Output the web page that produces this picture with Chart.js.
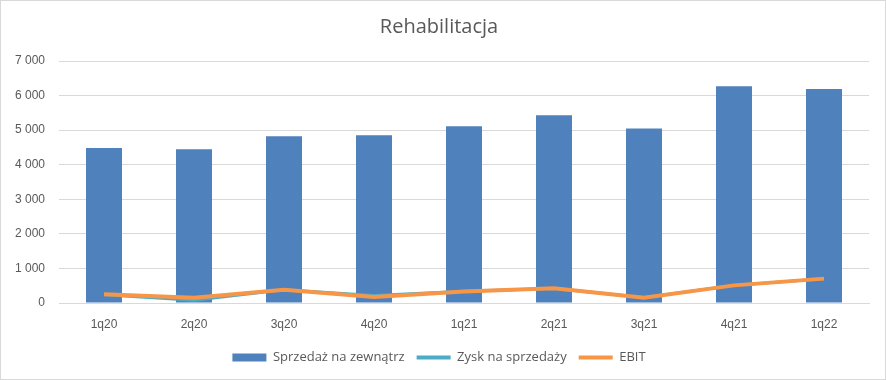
<!DOCTYPE html>
<html><head><meta charset="utf-8">
<script src="https://cdn.jsdelivr.net/npm/chart.js@4"></script>
<style>
html,body{margin:0;padding:0;background:#fff;}
#wrap{position:relative;width:884px;height:378px;border:1px solid #d9d9d9;}
</style></head>
<body><div id="wrap"><canvas id="c" width="884" height="378"></canvas></div>
<script>
const categories = ['1q20','2q20','3q20','4q20','1q21','2q21','3q21','4q21','1q22'];
const sprzedaz = [4480, 4450, 4820, 4850, 5110, 5430, 5050, 6270, 6190];
const zysk = [240, 80, 380, 220, 340, 420, 160, 510, 700];
const ebit = [250, 155, 380, 175, 330, 425, 155, 510, 705];
const yTicks = [0,1000,2000,3000,4000,5000,6000,7000];

const fmt = v => v === 0 ? '0' : String(v).replace(/\B(?=(\d{3})+(?!\d))/g, ' ');

new Chart(document.getElementById('c'), {
  data: {
    labels: categories,
    datasets: [
      {type:'line', label:'EBIT', data: ebit, borderColor:'#f79646', backgroundColor:'#f79646', borderWidth:4, pointRadius:0, tension:0, order:1},
      {type:'line', label:'Zysk na sprzedaży', data: zysk, borderColor:'#4bacc6', backgroundColor:'#4bacc6', borderWidth:3, pointRadius:0, tension:0, order:2},
      {type:'bar', label:'Sprzedaż na zewnątrz', data: sprzedaz, backgroundColor:'#4f81bd', categoryPercentage:1, barPercentage:0.4, order:3}
    ]
  },
  options: {
    responsive:false, animation:false,
    layout:{padding:{left:8, right:16, top:0, bottom:5}},
    plugins:{
      title:{display:true, text:'Rehabilitacja', color:'#595959', font:{family:'Open Sans', size:20, weight:'normal'}, padding:{top:14, bottom:22}},
      legend:{position:'bottom', reverse:true,
        labels:{color:'#595959', font:{family:'Open Sans', size:13}, usePointStyle:true, pointStyleWidth:34, boxHeight:8, padding:12,
          generateLabels(chart){
            const items = Chart.defaults.plugins.legend.labels.generateLabels(chart);
            items.forEach(it=>{
              const ds = chart.data.datasets[it.datasetIndex];
              if(ds.type==='bar'){ it.pointStyle='rect'; it.lineWidth=0; it.strokeStyle=ds.backgroundColor; }
              else { it.pointStyle='line'; it.lineWidth=4; it.strokeStyle=ds.borderColor; }
            });
            return items;
          }
        }
      },
      tooltip:{enabled:false}
    },
    scales:{
      x:{grid:{display:false, drawTicks:false}, border:{display:true, color:'#d9d9d9'},
        afterFit(ax){ ax.height = 36; },
        ticks:{color:'#595959', font:{family:'Liberation Sans', size:12}, padding:14}},
      y:{min:0, max:7000, grid:{color:'#d9d9d9', drawTicks:false}, border:{display:false},
        afterBuildTicks(ax){ ax.ticks = yTicks.map(v=>({value:v})); },
        afterFit(ax){ ax.width = 50; },
        ticks:{color:'#595959', font:{family:'Liberation Sans', size:12}, padding:14, callback:v=>fmt(v)}}
    }
  }
});
</script></body></html>
